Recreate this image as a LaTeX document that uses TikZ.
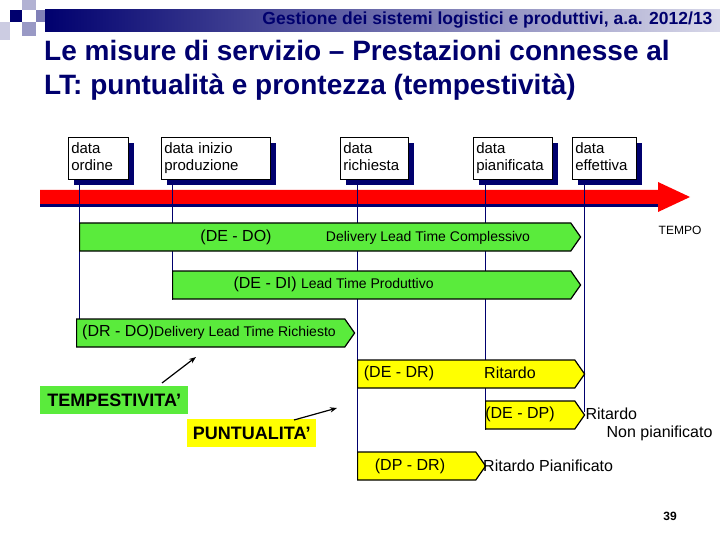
\documentclass[tikz,border=0pt]{standalone}
\usepackage{fontspec}
\setmainfont{Liberation Sans}
\usetikzlibrary{shapes.symbols,arrows.meta,shadows}
\definecolor{navy}{RGB}{0,0,110}
\definecolor{bar}{RGB}{90,235,60}
\definecolor{yel}{RGB}{255,255,0}
\begin{document}
\begin{tikzpicture}[x=1pt,y=-1pt,
  datebox/.style={draw=black,fill=white,line width=0.6pt,minimum height=42pt,minimum width=#1,text width=#1-6pt,align=left,inner sep=3pt,anchor=north west,font=\fontsize{15}{17}\selectfont,
    drop shadow={shadow xshift=6pt,shadow yshift=-6pt,fill=navy,opacity=1}},
  greenbar/.style={signal,signal to=east,signal pointer angle=110,draw=black,line width=1.2pt,fill=bar,minimum height=28pt,anchor=west,inner sep=0pt},
  yelbar/.style={signal,signal to=east,signal pointer angle=110,draw=black,line width=1.2pt,fill=yel,minimum height=28pt,anchor=west,inner sep=0pt},
  lbl/.style={font=\fontsize{16}{18}\selectfont},
  sml/.style={font=\fontsize{14}{16}\selectfont},
  vline/.style={navy,line width=1pt},
  tag/.style={font=\bfseries\fontsize{18}{20}\selectfont,inner sep=2pt,anchor=north west}]
\useasboundingbox (0,0) rectangle (720,540);
% header decoration
\shade[left color=navy,right color=navy!15] (45,10) rectangle (720,32);
\fill[navy] (10,10) rectangle (22,22);
\fill[navy!30] (22,0) rectangle (36,10);
\fill[navy!40] (22,22) rectangle (36,36);
\fill[navy!20] (0,22) rectangle (10,40);
\fill[navy!50] (36,10) rectangle (45,22);
\node[navy,font=\bfseries\fontsize{17.5}{19}\selectfont,anchor=east] (hdr) at (716,20) {Gestione dei sistemi logistici e produttivi, a.a. 2012/13};
\node[navy,font=\bfseries\fontsize{28}{34}\selectfont,anchor=north west,align=left,inner sep=0pt] (title) at (44,40) {Le misure di servizio – Prestazioni connesse al\\LT: puntualità e prontezza (tempestività)};
% red timeline
\fill[navy] (40,203) rectangle (662,207);
\fill[red] (40,190) -- (658,190) -- (658,182) -- (690,197) -- (658,212) -- (658,204) -- (40,204) -- cycle;
% vertical lines
\coordinate (o1) at (79,180); \coordinate (o2) at (79,345);
\coordinate (i1) at (172,180); \coordinate (i2) at (172,300);
\coordinate (r1) at (357,180); \coordinate (r2) at (357,478);
\coordinate (p1) at (485,180); \coordinate (p2) at (485,430);
\coordinate (e1) at (584,180); \coordinate (e2) at (584,412);
\foreach \a/\b in {o1/o2,i1/i2,r1/r2,p1/p2,e1/e2} \draw[vline] (\a)--(\b);
% date boxes
\node[datebox=60pt] (bo) at (68,137) {data\strut\\ordine\strut};
\node[datebox=109pt] (bi) at (161,137) {data inizio\strut\\produzione\strut};
\node[datebox=68pt] (br) at (340,137) {data\strut\\richiesta\strut};
\node[datebox=79pt] (bp) at (473,137) {data\strut\\pianificata\strut};
\node[datebox=64pt] (be) at (572,137) {data\strut\\effettiva\strut};
% green bars
\node[greenbar,minimum width=501pt] (dedo) at (79,237) {};
\node[lbl] (dedot) at (236,237) {(DE - DO)};
\node[sml] (dedo2) at (428,238) {Delivery Lead Time Complessivo};
\node[greenbar,minimum width=408pt] (dedi) at (172,285) {};
\node[lbl,anchor=west] (dedit) at (230,284) {(DE - DI) \fontsize{14}{16}\selectfont Lead Time Produttivo};
\node[greenbar,minimum width=278pt] (drdo) at (76,333) {};
\node[lbl,anchor=west,inner sep=0pt] (drdot) at (82,332) {(DR - DO)\fontsize{14}{16}\selectfont Delivery Lead Time Richiesto};
% yellow bars
\node[yelbar,minimum width=227pt] (dedr) at (357,374) {};
\node[lbl] (dedrt) at (399,373) {(DE - DR)};
\node[lbl] (dedr2) at (510,373) {Ritardo};
\node[yelbar,minimum width=99pt] (dedp) at (485,415) {};
\node[lbl] (dedpt) at (520,414) {(DE - DP)};
\node[lbl,anchor=west] (rnp1) at (582,414) {Ritardo};
\node[lbl,anchor=east] (rnp2) at (716,433) {Non pianificato};
\node[yelbar,minimum width=128pt] (dpdr) at (357,466) {};
\node[lbl] (dpdrt) at (410,466) {(DP - DR)};
\node[lbl,anchor=west,inner sep=1pt] (rp) at (482,466) {Ritardo Pianificato};
\node[font=\fontsize{12}{13}\selectfont] (tempo) at (680,230) {TEMPO};
% tags
\node[tag,fill=bar,minimum height=28pt,minimum width=148pt] (temp) at (40,386) {TEMPESTIVITA’};
\node[tag,fill=yel,minimum height=28pt,minimum width=129pt] (punt) at (187,419) {PUNTUALITA’};
\coordinate (ta) at (196,357); \coordinate (pa) at (337,408);
\draw[-{Stealth[length=7pt]},line width=1.2pt] (162,383) -- (ta);
\draw[-{Stealth[length=7pt]},line width=1.2pt] (294,420) -- (pa);
\node[font=\bfseries\fontsize{12}{13}\selectfont] (pg) at (670,516) {39};
\end{tikzpicture}
\end{document}
